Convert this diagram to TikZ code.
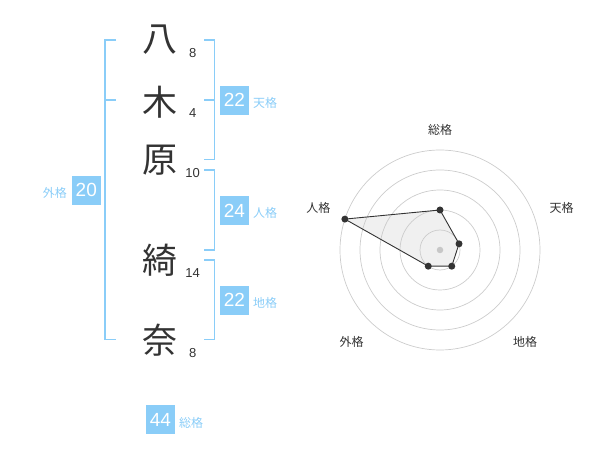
\documentclass[tikz,border=0pt]{standalone}
\usepackage{fontspec}
\usetikzlibrary{calc}
\setmainfont{Liberation Sans}
\newfontfamily\cjk{Noto Sans CJK JP}
\definecolor{kblue}{HTML}{8ACDF8}
\definecolor{kink}{HTML}{333333}
\tikzset{
  kanji/.style={font=\cjk\fontsize{35}{35}\selectfont, text=kink, inner sep=0pt},
  strokes/.style={font=\fontsize{13}{13}\selectfont, text=kink, inner sep=0pt},
  brk/.style={draw=kblue, line width=1.6pt},
  badge/.style={fill=kblue, text=white, minimum width=29pt, minimum height=29pt, inner sep=0pt, font=\fontsize{19}{19}\selectfont},
  blab/.style={text=kblue, font=\cjk\fontsize{12}{12}\selectfont, inner sep=0pt},
  ring/.style={draw=black!20, line width=0.7pt},
  rlab/.style={text=kink, font=\cjk\fontsize{12}{12}\selectfont, inner sep=0pt},
  dot/.style={circle, fill=kink, inner sep=0pt, minimum size=7pt},
}
\begin{document}
\begin{tikzpicture}[x=1pt, y=-1pt]
\useasboundingbox (0,0) rectangle (600,470);
% characters
\node[kanji] (c1) at (160,40) {八};
\node[kanji] (c2) at (160,102.5) {木};
\node[kanji] (c3) at (160,160) {原};
\node[kanji] (c4) at (160,260) {綺};
\node[kanji] (c5) at (160,340.5) {奈};
\node[strokes] (n1) at (192.7,53) {8};
\node[strokes] (n2) at (192.7,113) {4};
\node[strokes] (n3) at (192.7,172.7) {10};
\node[strokes] (n4) at (192.7,272.7) {14};
\node[strokes] (n5) at (192.7,353) {8};
% brackets
\coordinate (la) at (116,40);
\coordinate (lb) at (105,40);
\coordinate (lc) at (105,339.5);
\coordinate (ld) at (116,339.5);
\coordinate (lm1) at (105,100);
\coordinate (lm2) at (116,100);
\draw[brk] (la) -- (lb) -- (lc) -- (ld);
\draw[brk] (lm1) -- (lm2);
\coordinate (ta) at (204,40);
\coordinate (tb) at (214.5,40);
\coordinate (tc) at (214.5,159.5);
\coordinate (td) at (204,159.5);
\coordinate (tm1) at (214.5,100);
\coordinate (tm2) at (204,100);
\draw[brk] (ta) -- (tb) -- (tc) -- (td);
\draw[brk] (tm1) -- (tm2);
\coordinate (ja) at (204,170);
\coordinate (jb) at (214.5,170);
\coordinate (jc) at (214.5,250);
\coordinate (jd) at (204,250);
\draw[brk] (ja) -- (jb) -- (jc) -- (jd);
\coordinate (ga) at (204,260);
\coordinate (gb) at (214.5,260);
\coordinate (gc) at (214.5,339.5);
\coordinate (gd) at (204,339.5);
\draw[brk] (ga) -- (gb) -- (gc) -- (gd);
% badges
\node[badge] (b1) at (234.5,100.3) {22};
\node[blab, anchor=west] (l1) at (253,103) {天格};
\node[badge] (b2) at (234.5,210.5) {24};
\node[blab, anchor=west] (l2) at (253,213) {人格};
\node[badge] (b3) at (234.5,300.3) {22};
\node[blab, anchor=west] (l3) at (253,303) {地格};
\node[badge] (b4) at (86.3,190.3) {20};
\node[blab, anchor=east] (l4) at (67,193) {外格};
\node[badge] (b5) at (160.5,419.5) {44};
\node[blab, anchor=west] (l5) at (179,422.5) {総格};
% radar
\coordinate (o) at (440,250);
\coordinate (p1) at ($(o)+(0,-40)$);
\coordinate (p2) at ($(o)+({20*cos(18)},{-20*sin(18)})$);
\coordinate (p3) at ($(o)+({20*cos(54)},{20*sin(54)})$);
\coordinate (p4) at ($(o)+({-20*cos(54)},{20*sin(54)})$);
\coordinate (p5) at ($(o)+({-100*cos(18)},{-100*sin(18)})$);
\fill[black!6] (p1) -- (p2) -- (p3) -- (p4) -- (p5) -- cycle;
\foreach \r in {20,40,60,80,100} \draw[ring] (o) circle[radius=\r];
\draw[kink, line width=0.9pt] (p1) -- (p2) -- (p3) -- (p4) -- (p5) -- cycle;
\node[circle, fill=black!22, inner sep=0pt, minimum size=6.5pt] (oc) at (o) {};
\foreach \i in {1,...,5} \node[dot] (d\i) at (p\i) {};
\node[rlab] (r1) at (440,130) {総格};
\node[rlab] (r2) at (561.7,208.3) {天格};
\node[rlab] (r3) at (525,341.7) {地格};
\node[rlab] (r4) at (351.7,341.7) {外格};
\node[rlab] (r5) at (318.3,208.3) {人格};
\end{tikzpicture}
\end{document}
